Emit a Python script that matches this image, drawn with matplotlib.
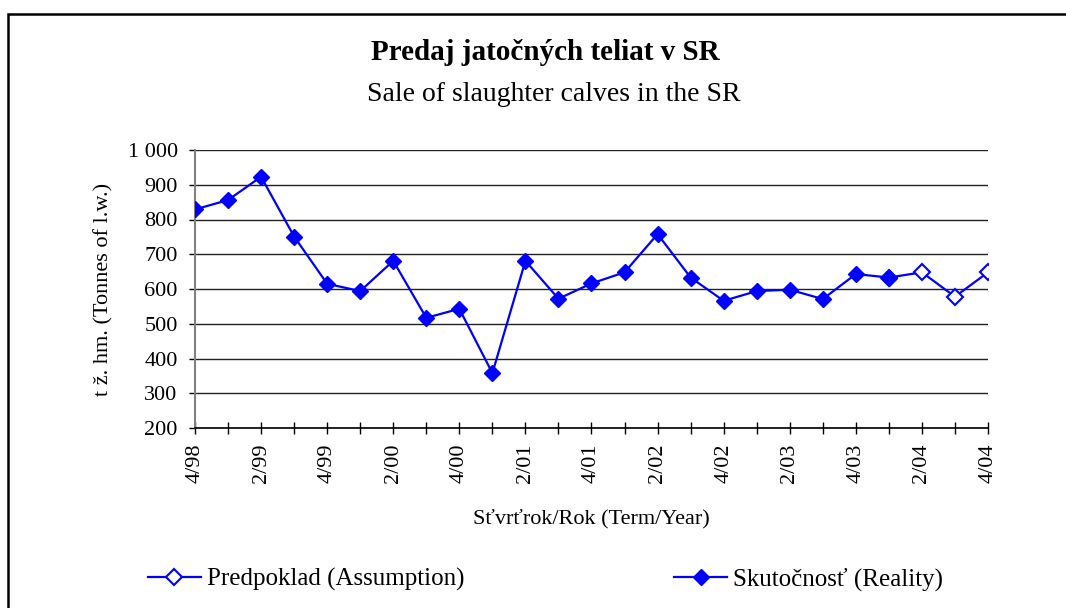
import numpy as np
import matplotlib
matplotlib.use("Agg")
import matplotlib.pyplot as plt
from matplotlib.patches import Rectangle

plt.rcParams['font.family'] = ['Liberation Serif', 'DejaVu Serif']

# quarters 4/98 .. 4/04
quarters = ['4/98', '1/99', '2/99', '3/99', '4/99', '1/00', '2/00', '3/00', '4/00',
            '1/01', '2/01', '3/01', '4/01', '1/02', '2/02', '3/02', '4/02',
            '1/03', '2/03', '3/03', '4/03', '1/04', '2/04', '3/04', '4/04']
# reality (t live weight)
reality = [829, 856, 923, 751, 615, 594, 681, 517, 543, 358, 681, 572, 616,
           648, 758, 633, 566, 594, 598, 571, 643, 633,
           np.nan, np.nan, np.nan]
# assumption (forecast), joins on to the last real value
assumption = [np.nan] * 21 + [633, 648, 578, 648]

blue = '#0000FF'
x = np.arange(len(quarters))

fig = plt.figure(figsize=(10.66, 6.08), dpi=100)
ax = fig.add_axes([195/1066, 1-428/608, (988-195)/1066, (428-150)/608])

# outer chart border (only left and top are inside the picture)
fig.patches.append(Rectangle((8/1066, -0.1), 1.0, 1.1-14/608, transform=fig.transFigure,
                             fill=False, edgecolor='black', linewidth=1.8, clip_on=False))

ax.plot(x, assumption, color=blue, lw=1.6, marker='D', markersize=8,
        markerfacecolor='white', markeredgecolor=blue, markeredgewidth=1.5,
        label='Predpoklad (Assumption)', zorder=3)
ax.plot(x, reality, color=blue, lw=1.6, marker='D', markersize=8.5,
        markerfacecolor=blue, markeredgecolor=blue,
        label='Skutočnosť (Reality)', zorder=4)

ax.set_xlim(0, len(quarters) - 1)
ax.set_ylim(200, 1000)
ax.set_yticks(range(200, 1001, 100))
ax.set_yticklabels([('1 000' if v == 1000 else str(v)) for v in range(200, 1001, 100)])
ax.set_xticks(x)
ax.set_xticklabels([q if i % 2 == 0 else '' for i, q in enumerate(quarters)], rotation=90)

ax.grid(axis='y', color='#222222', lw=1)
ax.set_axisbelow(True)
for s in ['top', 'right']:
    ax.spines[s].set_visible(False)
ax.spines['left'].set_color('#808080')
ax.spines['left'].set_linewidth(1.5)
ax.spines['bottom'].set_color('black')
ax.spines['bottom'].set_linewidth(1.2)

ax.tick_params(axis='x', direction='inout', length=9, width=1, labelsize=16, pad=7)
ax.tick_params(axis='y', direction='out', length=4.5, width=1, labelsize=16, pad=8)

ax.set_ylabel('t ž. hm. (Tonnes of l.w.)', fontsize=16)
ax.yaxis.set_label_coords(-0.103, 0.5)
ax.set_xlabel('Sťvrťrok/Rok (Term/Year)', fontsize=16)
ax.xaxis.set_label_coords(0.5, -0.29)

fig.text(545/1066, 1-60/608, 'Predaj jatočných teliat v SR', ha='center', va='baseline',
         fontsize=21, fontweight='bold')
fig.text(554/1066, 1-101/608, 'Sale of slaughter calves in the SR', ha='center', va='baseline',
         fontsize=20)

fig.legend(loc='center left', bbox_to_anchor=(148/1066, 1-579/608), ncol=2,
           frameon=False, fontsize=18, handlelength=2.1, handletextpad=0.25,
           borderpad=0, borderaxespad=0, columnspacing=8.4)

fig.savefig('out.png', dpi=100)
